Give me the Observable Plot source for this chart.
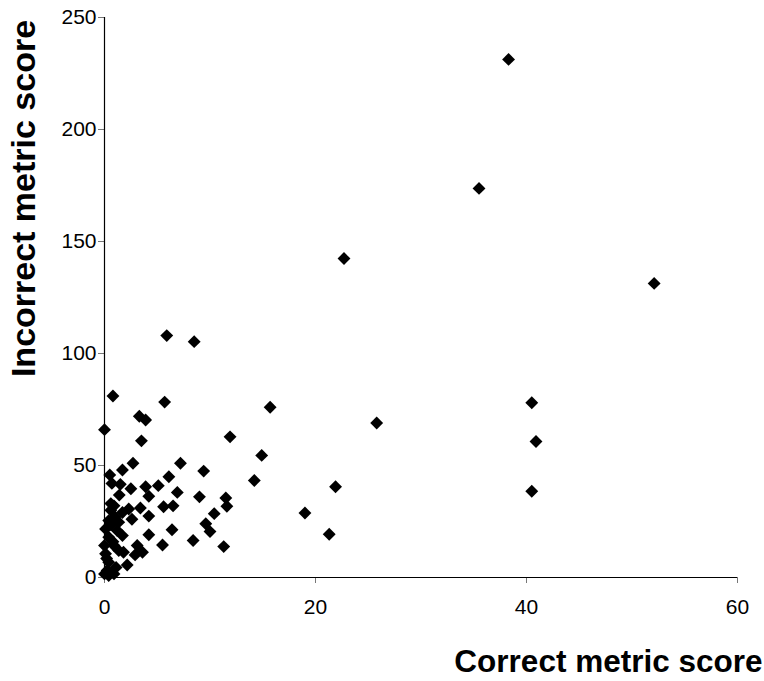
<!DOCTYPE html>
<html>
<head>
<meta charset="utf-8">
<script src="https://cdn.jsdelivr.net/npm/d3@7"></script>
<script src="https://cdn.jsdelivr.net/npm/@observablehq/plot@0.6"></script>
<style>
  html, body { margin: 0; padding: 0; background: #fff; }
  #chart svg { display: block; }
</style>
</head>
<body>
<div id="chart"></div>
<script>
// Correct metric score (x) and incorrect metric score (y)
const correctScores = [
  38.3, 35.5, 22.7, 52.1, 5.9, 8.5, 40.5, 40.9, 40.5, 15.7,
  25.8, 11.9, 14.9, 14.2, 21.9, 19.0, 21.3, 11.5, 11.6, 11.3,
  0.8, 0.0, 5.7, 3.3, 3.9, 3.5, 2.7, 1.7, 0.5, 7.2,
  9.4, 6.1, 5.1, 3.9, 2.5, 1.5, 0.7, 1.4, 4.2, 6.9,
  9.0, 5.6, 6.5, 10.4, 9.6, 10.0, 8.4, 6.4, 5.5, 3.4,
  4.2, 2.6, 4.2, 3.1, 2.9, 3.6, 2.15, 1.8, 2.3, 0.9,
  0.6, 1.7, 0.4, 1.35, 0.1, 1.2, 0.4, 1.7, 0.0, 0.9,
  0.1, 1.35, 0.4, 0.25, 0.9, 0.0, 0.4, 0.6, 1.0, 0.2,
  1.1, 0.8, 0.6
];
const incorrectScores = [
  231.3, 173.7, 142.4, 131.3, 108.0, 105.3, 78.0, 60.7, 38.5, 76.0,
  69.0, 62.8, 54.5, 43.3, 40.5, 28.8, 19.3, 35.5, 31.8, 13.8,
  81.0, 66.0, 78.3, 72.0, 70.3, 61.0, 51.0, 48.0, 45.8, 51.0,
  47.5, 45.0, 41.0, 40.5, 39.6, 41.6, 42.0, 36.8, 36.3, 38.0,
  36.0, 31.6, 32.0, 28.5, 24.0, 20.5, 16.5, 21.3, 14.5, 31.0,
  27.4, 26.0, 19.1, 14.3, 10.1, 11.3, 5.6, 11.3, 30.6, 32.0,
  30.0, 29.0, 25.4, 24.7, 21.7, 21.0, 18.0, 18.7, 14.3, 14.3,
  10.6, 12.0, 6.8, 3.1, 1.6, 1.6, 0.9, 23.5, 27.0, 8.5,
  4.5, 16.0, 33.0
];
const xTicks = [0, 20, 40, 60];
const yTicks = [0, 50, 100, 150, 200, 250];
const xLabel = "Correct metric score";
const yLabel = "Incorrect metric score";

const points = correctScores.map((x, i) => ({x, y: incorrectScores[i]}));

const chart = Plot.plot({
  width: 764,
  height: 681,
  marginLeft: 104,
  marginRight: 27,
  marginTop: 17,
  marginBottom: 104,
  style: {fontFamily: "'Liberation Sans', Arial, sans-serif", fontSize: "21px", color: "#000", background: "#fff"},
  x: {domain: [0, 60]},
  y: {domain: [0, 250]},
  marks: [
    Plot.axisX({ticks: xTicks, tickSize: 6, tickPadding: 16, label: null, stroke: "#777", fill: "#000", fontSize: 21}),
    Plot.axisY({ticks: yTicks, tickSize: 6, tickPadding: 2, label: null, stroke: "#777", fill: "#000", fontSize: 21}),
    Plot.ruleY([0], {stroke: "#000", strokeWidth: 1.2}),
    Plot.ruleX([0], {stroke: "#000", strokeWidth: 1.2}),
    Plot.dot(points, {x: "x", y: "y", symbol: "diamond2", r: 5.8, fill: "#000", stroke: "none"}),
    Plot.text([xLabel], {frameAnchor: "bottom-right", textAnchor: "end", dx: 25, dy: 94, fontSize: 31.5, fontWeight: "bold", fill: "#000"}),
    Plot.text([yLabel], {frameAnchor: "left", textAnchor: "middle", rotate: -90, dx: -80, dy: -99, fontSize: 34, fontWeight: "bold", fill: "#000"})
  ]
});
document.getElementById("chart").appendChild(chart);
</script>
</body>
</html>
